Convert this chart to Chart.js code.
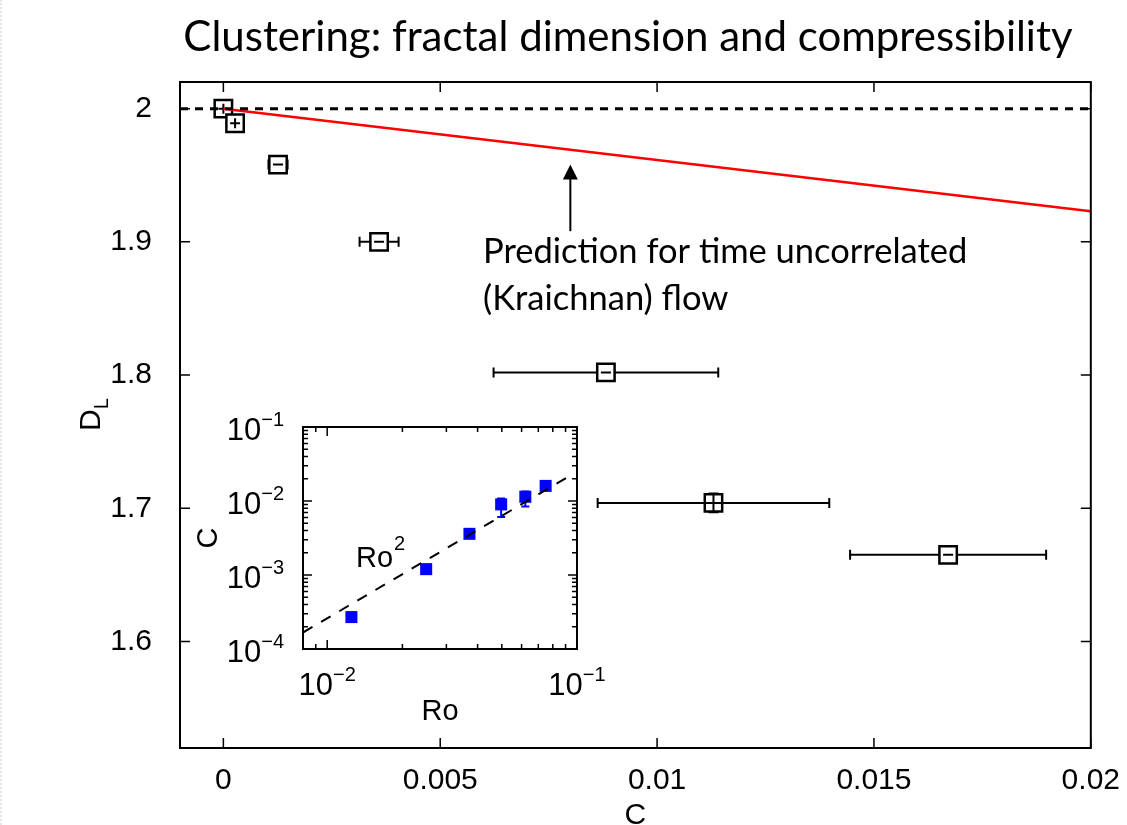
<!DOCTYPE html>
<html>
<head>
<meta charset="utf-8">
<script src="https://cdn.jsdelivr.net/npm/chart.js@4.4.1/dist/chart.umd.min.js"></script>
<style>
  html, body { margin: 0; padding: 0; background: #fff; }
  #wrap { position: relative; width: 1127px; height: 825px; overflow: hidden; }
  #main { position: absolute; left: 0; top: 0; }
  #inset { position: absolute; left: 195px; top: 410px; }
  #edge { position: absolute; left: 0; top: 0; height: 825px; border-left: 2px dotted #e6e6e6; }
</style>
</head>
<body>
<div id="wrap">
  <div id="edge"></div>
  <canvas id="main" width="1127" height="825"></canvas>
  <canvas id="inset" width="420" height="320"></canvas>
</div>
<script>
// main panel: fractal dimension D_L against compressibility C
const compressibility = [0, 0.00027, 0.00126, 0.00359, 0.00882, 0.0113, 0.01671];
const fractalDim      = [2.0, 1.989, 1.958, 1.900, 1.802, 1.704, 1.665];
const compressErr     = [0, 0, 0.00022, 0.00045, 0.00259, 0.00267, 0.00226];
const fractalErr      = [0, 0, 0, 0, 0, 0.007, 0];

// Kraichnan prediction (red) and D_L = 2 reference (dashed)
const kraichnanC = [0, 0.02];
const kraichnanD = [2.0, 1.923];
const flatC = [-0.001, 0.02];
const flatD = [2, 2];

const xTicks = [0, 0.005, 0.01, 0.015, 0.02];
const xTickLabels = ['0', '0.005', '0.01', '0.015', '0.02'];
const yTicks = [1.6, 1.7, 1.8, 1.9, 2];
const yTickLabels = ['1.6', '1.7', '1.8', '1.9', '2'];

const titleText = 'Clustering: fractal dimension and compressibility';

// arrow pointing at the prediction line
const arrowC = 0.008;
const arrowFromD = 1.908;
const arrowToD = 1.958;

// inset: C against Ro, log-log
const rossby     = [0.0125, 0.0249, 0.0371, 0.0497, 0.0621, 0.0749];
const insetC     = [2.7e-4, 1.2e-3, 3.6e-3, 9.0e-3, 1.14e-2, 1.6e-2];
const insetCLow  = [null, 1.1e-3, null, 6.1e-3, 8.4e-3, null];
const insetCHigh = [null, 1.3e-3, null, 1.08e-2, 1.34e-2, null];
const ro2Ro = [0.008, 0.0956];
const ro2C  = [1.67e-4, 2.28e-2];

const insetXMajor = [0.01, 0.1];
const insetXExp   = ['\u22122', '\u22121'];
const insetYMajor = [1e-4, 1e-3, 1e-2, 1e-1];
const insetYExp   = ['\u22124', '\u22123', '\u22122', '\u22121'];

const toPts = (xs, ys) => xs.map((v, i) => ({ x: v, y: ys[i] }));

function minorTicks(majors, min, max) {
  const out = [];
  [majors[0] / 10, ...majors].forEach(d => {
    for (let m = 2; m <= 9; m++) {
      const v = m * d;
      if (v >= min * 0.999 && v <= max * 1.001) out.push(v);
    }
  });
  return out;
}

const TICK_FONT = { family: 'Liberation Sans', size: 30 };

const mainDecor = {
  id: 'mainDecor',
  beforeDatasetsDraw(chart) {
    const { ctx, scales: { x, y } } = chart;
    ctx.save();
    ctx.strokeStyle = '#000';
    ctx.lineWidth = 2;
    compressibility.forEach((c, i) => {
      const py = y.getPixelForValue(fractalDim[i]);
      ctx.beginPath();
      ctx.moveTo(x.getPixelForValue(c - compressErr[i]), py);
      ctx.lineTo(x.getPixelForValue(c + compressErr[i]), py);
      ctx.stroke();
    });
    ctx.restore();
  },
  afterDatasetDraw(chart, args) {
    if (args.index !== 2) return;
    const { ctx, scales: { x, y } } = chart;
    const cap = 5;
    ctx.save();
    ctx.strokeStyle = '#000';
    ctx.lineWidth = 2;
    compressibility.forEach((c, i) => {
      const px = x.getPixelForValue(c);
      const py = y.getPixelForValue(fractalDim[i]);
      const x0 = x.getPixelForValue(c - compressErr[i]);
      const x1 = x.getPixelForValue(c + compressErr[i]);
      const y0 = y.getPixelForValue(fractalDim[i] - fractalErr[i]);
      const y1 = y.getPixelForValue(fractalDim[i] + fractalErr[i]);
      ctx.beginPath();
      ctx.moveTo(x0, py - cap); ctx.lineTo(x0, py + cap);
      ctx.moveTo(x1, py - cap); ctx.lineTo(x1, py + cap);
      ctx.moveTo(px, y0); ctx.lineTo(px, y1);
      ctx.moveTo(px - cap, y0); ctx.lineTo(px + cap, y0);
      ctx.moveTo(px - cap, y1); ctx.lineTo(px + cap, y1);
      if (fractalErr[i] > 0) { ctx.moveTo(x0, py); ctx.lineTo(x1, py); }
      ctx.stroke();
    });
    ctx.restore();
  },
  afterDraw(chart) {
    const { ctx, chartArea: a, scales: { x, y } } = chart;
    ctx.save();
    // frame and inward ticks
    ctx.strokeStyle = '#000';
    ctx.lineWidth = 1.5;
    ctx.beginPath();
    xTicks.forEach(v => {
      const px = x.getPixelForValue(v);
      ctx.moveTo(px, a.bottom); ctx.lineTo(px, a.bottom - 10);
      ctx.moveTo(px, a.top); ctx.lineTo(px, a.top + 10);
    });
    yTicks.forEach(v => {
      const py = y.getPixelForValue(v);
      ctx.moveTo(a.left, py); ctx.lineTo(a.left + 10, py);
      ctx.moveTo(a.right, py); ctx.lineTo(a.right - 10, py);
    });
    ctx.stroke();
    ctx.lineWidth = 2;
    ctx.strokeRect(a.left, a.top, a.right - a.left, a.bottom - a.top);

    // arrow
    const ax = x.getPixelForValue(arrowC);
    const tip = y.getPixelForValue(arrowToD);
    const base = y.getPixelForValue(arrowFromD);
    ctx.beginPath();
    ctx.moveTo(ax, base); ctx.lineTo(ax, tip + 14);
    ctx.stroke();
    ctx.fillStyle = '#000';
    ctx.beginPath();
    ctx.moveTo(ax, tip);
    ctx.lineTo(ax - 7.5, tip + 15);
    ctx.lineTo(ax + 7.5, tip + 15);
    ctx.closePath();
    ctx.fill();

    ctx.textBaseline = 'alphabetic';

    // title
    ctx.font = '42px Lato';
    ctx.textAlign = 'center';
    ctx.fillText(titleText, 628, 51);

    // annotation
    ctx.font = '34.5px Lato';
    ctx.textAlign = 'left';
    ctx.fillText('Prediction for time uncorrelated', 483, 263);
    ctx.fillText('(Kraichnan) flow', 483, 310);

    // x axis title
    ctx.font = '30px "Liberation Sans"';
    ctx.textAlign = 'center';
    ctx.fillText('C', (a.left + a.right) / 2, 824);

    // y axis title D_L
    ctx.save();
    ctx.translate(100, 431);
    ctx.rotate(-Math.PI / 2);
    ctx.textAlign = 'left';
    ctx.font = '30px "Liberation Sans"';
    ctx.fillText('D', 0, 0);
    const dw = ctx.measureText('D').width;
    ctx.font = '20px "Liberation Sans"';
    ctx.fillText('L', dw, 8);
    ctx.restore();

    ctx.restore();
  }
};

new Chart(document.getElementById('main'), {
  type: 'scatter',
  data: {
    datasets: [
      { data: toPts(flatC, flatD), showLine: true, borderColor: '#000', borderWidth: 3,
        borderDash: [8, 7], pointRadius: 0, order: 0 },
      { data: toPts(kraichnanC, kraichnanD), showLine: true, borderColor: '#ff0000', borderWidth: 2.5,
        pointRadius: 0, order: 0 },
      { data: toPts(compressibility, fractalDim), pointStyle: 'rect', pointRadius: 12.3,
        pointBackgroundColor: '#fff', pointBorderColor: '#000', pointBorderWidth: 2.5, order: 1 }
    ]
  },
  options: {
    responsive: false,
    animation: false,
    events: [],
    layout: { padding: { left: 0, right: 35, top: 82, bottom: 0 } },
    plugins: {
      legend: { display: false },
      tooltip: { enabled: false },
      title: { display: false }
    },
    scales: {
      x: {
        type: 'linear', min: -0.001, max: 0.02,
        afterBuildTicks: s => { s.ticks = xTicks.map(v => ({ value: v })); },
        afterFit: s => { s.height = 77; },
        ticks: { callback: (v, i) => xTickLabels[i], font: TICK_FONT, color: '#000',
                 padding: 7, maxRotation: 0, autoSkip: false },
        grid: { display: false },
        border: { display: false }
      },
      y: {
        type: 'linear', min: 1.52, max: 2.02,
        afterBuildTicks: s => { s.ticks = yTicks.map(v => ({ value: v })); },
        afterFit: s => { s.width = 180; },
        ticks: { callback: (v, i) => yTickLabels[i], font: TICK_FONT, color: '#000',
                 padding: 20, autoSkip: false },
        grid: { display: false },
        border: { display: false }
      }
    }
  },
  plugins: [mainDecor]
});

function drawPower(ctx, exp, left, baseline) {
  ctx.textAlign = 'left';
  ctx.font = '31px "Liberation Sans"';
  ctx.fillText('10', left, baseline);
  const w = ctx.measureText('10').width;
  ctx.font = '20px "Liberation Sans"';
  ctx.fillText(exp, left + w, baseline - 14);
}
function powerWidth(ctx, exp) {
  ctx.font = '31px "Liberation Sans"';
  const w = ctx.measureText('10').width;
  ctx.font = '20px "Liberation Sans"';
  return w + ctx.measureText(exp).width;
}

const insetDecor = {
  id: 'insetDecor',
  afterDatasetDraw(chart, args) {
    if (args.index !== 1) return;
    const { ctx, scales: { x, y } } = chart;
    const cap = 4;
    ctx.save();
    ctx.strokeStyle = '#0000ff';
    ctx.lineWidth = 2;
    rossby.forEach((r, i) => {
      if (insetCLow[i] === null) return;
      const px = x.getPixelForValue(r);
      const y0 = y.getPixelForValue(insetCLow[i]);
      const y1 = y.getPixelForValue(insetCHigh[i]);
      ctx.beginPath();
      ctx.moveTo(px, y0); ctx.lineTo(px, y1);
      ctx.moveTo(px - cap, y0); ctx.lineTo(px + cap, y0);
      ctx.moveTo(px - cap, y1); ctx.lineTo(px + cap, y1);
      ctx.stroke();
    });
    ctx.restore();
  },
  afterDraw(chart) {
    const { ctx, chartArea: a, scales: { x, y } } = chart;
    ctx.save();
    ctx.strokeStyle = '#000';
    ctx.lineWidth = 1.5;
    ctx.beginPath();
    const xt = (v, len) => {
      const px = x.getPixelForValue(v);
      ctx.moveTo(px, a.bottom); ctx.lineTo(px, a.bottom - len);
      ctx.moveTo(px, a.top); ctx.lineTo(px, a.top + len);
    };
    const yt = (v, len) => {
      const py = y.getPixelForValue(v);
      ctx.moveTo(a.left, py); ctx.lineTo(a.left + len, py);
      ctx.moveTo(a.right, py); ctx.lineTo(a.right - len, py);
    };
    insetXMajor.forEach(v => xt(v, 9));
    minorTicks(insetXMajor, 0.008, 0.1).forEach(v => xt(v, 5));
    insetYMajor.forEach(v => yt(v, 9));
    minorTicks(insetYMajor, 1e-4, 0.1).forEach(v => yt(v, 5));
    ctx.stroke();
    ctx.lineWidth = 2;
    ctx.strokeRect(a.left, a.top, a.right - a.left, a.bottom - a.top);

    ctx.fillStyle = '#000';
    ctx.textBaseline = 'alphabetic';
    insetYMajor.forEach((v, i) => {
      const py = y.getPixelForValue(v);
      const w = powerWidth(ctx, insetYExp[i]);
      drawPower(ctx, insetYExp[i], a.left - 19 - w, py + 13);
    });
    insetXMajor.forEach((v, i) => {
      const px = x.getPixelForValue(v);
      const w = powerWidth(ctx, insetXExp[i]);
      drawPower(ctx, insetXExp[i], px - w / 2, a.bottom + 46);
    });

    // axis titles
    ctx.font = '29px "Liberation Sans"';
    ctx.textAlign = 'center';
    ctx.fillText('Ro', (a.left + a.right) / 2, a.bottom + 71);
    ctx.save();
    ctx.translate(a.left - 86, (a.top + a.bottom) / 2);
    ctx.rotate(-Math.PI / 2);
    ctx.fillText('C', 0, 0);
    ctx.restore();

    // Ro^2 label
    ctx.textAlign = 'left';
    ctx.font = '29px "Liberation Sans"';
    ctx.fillText('Ro', a.left + 53, a.top + 140);
    const rw = ctx.measureText('Ro').width;
    ctx.font = '20px "Liberation Sans"';
    ctx.fillText('2', a.left + 53 + rw + 1, a.top + 123);
    ctx.restore();
  }
};

new Chart(document.getElementById('inset'), {
  type: 'scatter',
  data: {
    datasets: [
      { data: toPts(ro2Ro, ro2C), showLine: true, borderColor: '#000', borderWidth: 2,
        borderDash: [11, 10], pointRadius: 0, order: 0 },
      { data: toPts(rossby, insetC), pointStyle: 'rect', pointRadius: 8.5,
        pointBackgroundColor: '#0000ff', pointBorderWidth: 0, order: 1 }
    ]
  },
  options: {
    responsive: false,
    animation: false,
    events: [],
    layout: { padding: { left: 108, right: 38, top: 17, bottom: 81 } },
    plugins: { legend: { display: false }, tooltip: { enabled: false } },
    scales: {
      x: { type: 'logarithmic', min: 0.008, max: 0.1, display: false },
      y: { type: 'logarithmic', min: 1e-4, max: 0.1, display: false }
    }
  },
  plugins: [insetDecor]
});
</script>
</body>
</html>
